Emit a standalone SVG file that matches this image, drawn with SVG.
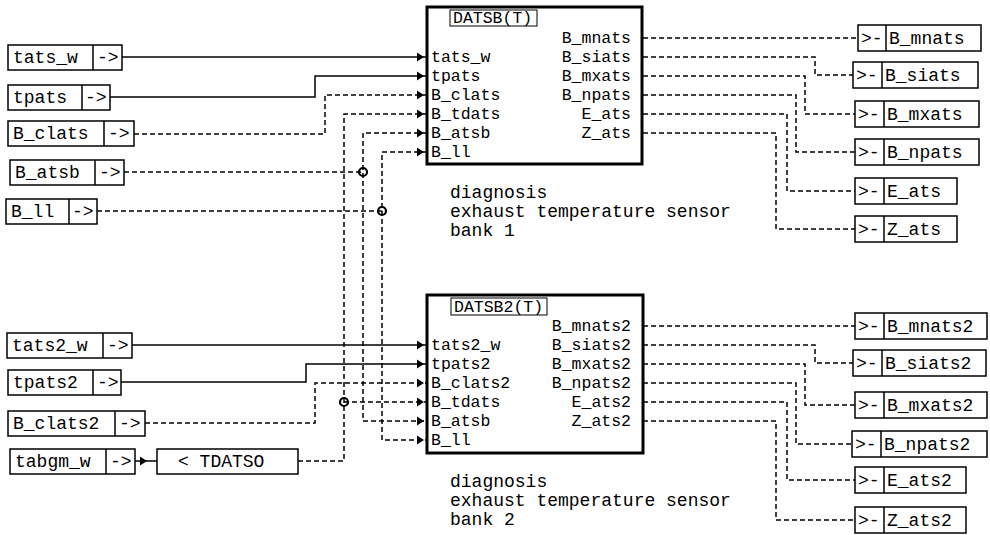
<svg xmlns="http://www.w3.org/2000/svg" xmlns:xlink="http://www.w3.org/1999/xlink" width="990" height="535" viewBox="0 0 990 535">
<style>
  .io rect, .io line { fill: #fff; stroke: #000; stroke-width: 1.5; }
  .io line { fill: none; }
  .io text, .desc text { font-family: "Liberation Mono", monospace; font-size: 18px; fill: #000; }
  .blk > rect.b { fill: #fff; stroke: #000; stroke-width: 3; }
  .blk > rect.tb { fill: #fff; stroke: #000; stroke-width: 1; }
  .blk text { font-family: "Liberation Mono", monospace; font-size: 16.5px; fill: #000; }
  .blk text.r { text-anchor: end; }
  .c path { fill: none; stroke: #000; stroke-width: 1.5; }
  .c path.d { stroke-dasharray: 5 3; }
  .c circle { fill: none; stroke: #000; stroke-width: 2.2; }
  .ah { fill: #000; }
</style>
<defs>
  <path id="ah" class="ah" d="M-7,-4.5 L0,0 L-7,4.5 Z"/>
</defs>

<!-- Blocks -->
<g id="DATSB" class="blk">
  <rect class="b" x="427" y="7" width="215" height="157"/>
  <rect class="tb" x="450" y="10" width="87" height="16"/>
  <text x="453" y="23">DATSB(T)</text>
  <text x="431" y="62">tats_w</text>
  <text x="431" y="81">tpats</text>
  <text x="431" y="100">B_clats</text>
  <text x="431" y="119">B_tdats</text>
  <text x="431" y="138">B_atsb</text>
  <text x="431" y="157">B_ll</text>
  <text class="r" x="631" y="43">B_mnats</text>
  <text class="r" x="631" y="62">B_siats</text>
  <text class="r" x="631" y="81">B_mxats</text>
  <text class="r" x="631" y="100">B_npats</text>
  <text class="r" x="631" y="119">E_ats</text>
  <text class="r" x="631" y="138">Z_ats</text>
</g>
<g id="DATSB-desc" class="desc">
  <text x="450" y="198">diagnosis</text>
  <text x="450" y="217">exhaust temperature sensor</text>
  <text x="450" y="236">bank 1</text>
</g>

<g id="DATSB2" class="blk">
  <rect class="b" x="427" y="295" width="216" height="158"/>
  <rect class="tb" x="451" y="298" width="96" height="17"/>
  <text x="454" y="312">DATSB2(T)</text>
  <text x="431" y="350">tats2_w</text>
  <text x="431" y="369">tpats2</text>
  <text x="431" y="388">B_clats2</text>
  <text x="431" y="407">B_tdats</text>
  <text x="431" y="426">B_atsb</text>
  <text x="431" y="445">B_ll</text>
  <text class="r" x="631" y="331">B_mnats2</text>
  <text class="r" x="631" y="350">B_siats2</text>
  <text class="r" x="631" y="369">B_mxats2</text>
  <text class="r" x="631" y="388">B_npats2</text>
  <text class="r" x="631" y="407">E_ats2</text>
  <text class="r" x="631" y="426">Z_ats2</text>
</g>
<g id="DATSB2-desc" class="desc">
  <text x="450" y="487">diagnosis</text>
  <text x="450" y="506">exhaust temperature sensor</text>
  <text x="450" y="525">bank 2</text>
</g>

<!-- Input boxes -->
<g id="in-tats_w" class="io"><rect x="8" y="45" width="114" height="25"/><line x1="93" y1="45" x2="93" y2="70"/><text x="13" y="63">tats_w</text><text x="97" y="63">-&gt;</text></g>
<g id="in-tpats" class="io"><rect x="8" y="85" width="102" height="25"/><line x1="82" y1="85" x2="82" y2="110"/><text x="13" y="103">tpats</text><text x="85" y="103">-&gt;</text></g>
<g id="in-B_clats" class="io"><rect x="8" y="121" width="126" height="25"/><line x1="104" y1="121" x2="104" y2="146"/><text x="13" y="139">B_clats</text><text x="108" y="139">-&gt;</text></g>
<g id="in-B_atsb" class="io"><rect x="10" y="160" width="114" height="25"/><line x1="95" y1="160" x2="95" y2="185"/><text x="15" y="178">B_atsb</text><text x="99" y="178">-&gt;</text></g>
<g id="in-B_ll" class="io"><rect x="6" y="199" width="91" height="25"/><line x1="69" y1="199" x2="69" y2="224"/><text x="11" y="217">B_ll</text><text x="72" y="217">-&gt;</text></g>

<g id="in-tats2_w" class="io"><rect x="7" y="333" width="125" height="25"/><line x1="103" y1="333" x2="103" y2="358"/><text x="12" y="351">tats2_w</text><text x="107" y="351">-&gt;</text></g>
<g id="in-tpats2" class="io"><rect x="8" y="370" width="113" height="25"/><line x1="93" y1="370" x2="93" y2="395"/><text x="13" y="388">tpats2</text><text x="97" y="388">-&gt;</text></g>
<g id="in-B_clats2" class="io"><rect x="8" y="411" width="137" height="25"/><line x1="115" y1="411" x2="115" y2="436"/><text x="13" y="429">B_clats2</text><text x="119" y="429">-&gt;</text></g>
<g id="in-tabgm_w" class="io"><rect x="10" y="449" width="125" height="25"/><line x1="106" y1="449" x2="106" y2="474"/><text x="15" y="467">tabgm_w</text><text x="110" y="467">-&gt;</text></g>
<g id="TDATSO" class="io"><rect x="157" y="449" width="141" height="25"/><text x="178" y="467">&lt; TDATSO</text></g>

<!-- Output boxes -->
<g id="out-B_mnats" class="io"><rect x="858" y="25" width="123" height="26"/><line x1="886" y1="25" x2="886" y2="51"/><text x="861" y="44">&gt;-</text><text x="889" y="44">B_mnats</text></g>
<g id="out-B_siats" class="io"><rect x="853" y="62" width="125" height="26"/><line x1="882" y1="62" x2="882" y2="88"/><text x="856" y="81">&gt;-</text><text x="885" y="81">B_siats</text></g>
<g id="out-B_mxats" class="io"><rect x="855" y="101" width="124" height="26"/><line x1="884" y1="101" x2="884" y2="127"/><text x="858" y="120">&gt;-</text><text x="887" y="120">B_mxats</text></g>
<g id="out-B_npats" class="io"><rect x="855" y="139" width="124" height="26"/><line x1="884" y1="139" x2="884" y2="165"/><text x="858" y="158">&gt;-</text><text x="887" y="158">B_npats</text></g>
<g id="out-E_ats" class="io"><rect x="855" y="178" width="102" height="26"/><line x1="884" y1="178" x2="884" y2="204"/><text x="858" y="197">&gt;-</text><text x="887" y="197">E_ats</text></g>
<g id="out-Z_ats" class="io"><rect x="855" y="216" width="102" height="26"/><line x1="884" y1="216" x2="884" y2="242"/><text x="858" y="235">&gt;-</text><text x="887" y="235">Z_ats</text></g>

<g id="out-B_mnats2" class="io"><rect x="855" y="313" width="132" height="26"/><line x1="884" y1="313" x2="884" y2="339"/><text x="858" y="332">&gt;-</text><text x="887" y="332">B_mnats2</text></g>
<g id="out-B_siats2" class="io"><rect x="853" y="350" width="133" height="26"/><line x1="882" y1="350" x2="882" y2="376"/><text x="856" y="369">&gt;-</text><text x="885" y="369">B_siats2</text></g>
<g id="out-B_mxats2" class="io"><rect x="855" y="392" width="132" height="26"/><line x1="884" y1="392" x2="884" y2="418"/><text x="858" y="411">&gt;-</text><text x="887" y="411">B_mxats2</text></g>
<g id="out-B_npats2" class="io"><rect x="852" y="431" width="135" height="26"/><line x1="881" y1="431" x2="881" y2="457"/><text x="855" y="450">&gt;-</text><text x="884" y="450">B_npats2</text></g>
<g id="out-E_ats2" class="io"><rect x="855" y="467" width="111" height="26"/><line x1="884" y1="467" x2="884" y2="493"/><text x="858" y="486">&gt;-</text><text x="887" y="486">E_ats2</text></g>
<g id="out-Z_ats2" class="io"><rect x="855" y="507" width="111" height="26"/><line x1="884" y1="507" x2="884" y2="533"/><text x="858" y="526">&gt;-</text><text x="887" y="526">Z_ats2</text></g>

<!-- Connectors -->
<g id="connectors" class="c">
  <path d="M122,57 H427"/>
  <path d="M110,97 H315 V76 H427"/>
  <path class="d" d="M134,134 H325 V95 H427"/>
  <path class="d" d="M124,172 H363"/>
  <path class="d" d="M97,211 H382"/>
  <path class="d" d="M298,461 H344 V114 H427"/>
  <path class="d" d="M344,402 H427"/>
  <path class="d" d="M427,133 H363 V421 H427"/>
  <path class="d" d="M427,152 H382 V440 H427"/>
  <path d="M132,345 H427"/>
  <path d="M121,382 H306 V364 H427"/>
  <path class="d" d="M145,423 H315 V383 H427"/>
  <path d="M135,461 H157"/>

  <path class="d" d="M643,38 H858"/>
  <path class="d" d="M643,57 H815 V75 H853"/>
  <path class="d" d="M643,76 H805 V114 H855"/>
  <path class="d" d="M643,95 H796 V152 H855"/>
  <path class="d" d="M643,114 H787 V191 H855"/>
  <path class="d" d="M643,133 H776 V229 H855"/>

  <path class="d" d="M643,326 H855"/>
  <path class="d" d="M643,345 H815 V363 H853"/>
  <path class="d" d="M643,364 H805 V405 H855"/>
  <path class="d" d="M643,383 H796 V444 H852"/>
  <path class="d" d="M643,402 H787 V480 H855"/>
  <path class="d" d="M643,421 H776 V520 H855"/>

  <circle cx="363" cy="172" r="4"/>
  <circle cx="382" cy="211" r="4"/>
  <circle cx="344" cy="402" r="4"/>

  <use xlink:href="#ah" x="424" y="57"/>
  <use xlink:href="#ah" x="424" y="76"/>
  <use xlink:href="#ah" x="424" y="95"/>
  <use xlink:href="#ah" x="424" y="114"/>
  <use xlink:href="#ah" x="424" y="133"/>
  <use xlink:href="#ah" x="424" y="152"/>
  <use xlink:href="#ah" x="424" y="345"/>
  <use xlink:href="#ah" x="424" y="364"/>
  <use xlink:href="#ah" x="424" y="383"/>
  <use xlink:href="#ah" x="424" y="402"/>
  <use xlink:href="#ah" x="424" y="421"/>
  <use xlink:href="#ah" x="424" y="440"/>
  <use xlink:href="#ah" x="147" y="461"/>
</g>
</svg>
